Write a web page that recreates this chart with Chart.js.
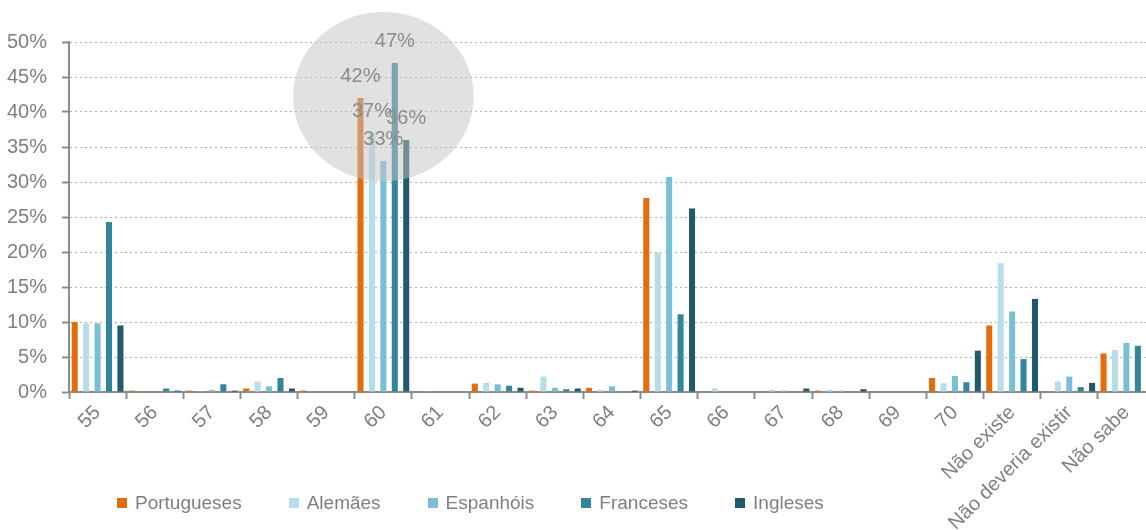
<!DOCTYPE html>
<html>
<head>
<meta charset="utf-8">
<script src="https://cdn.jsdelivr.net/npm/chart.js@4"></script>
<style>
  html, body { margin: 0; padding: 0; background: #fff; overflow: hidden; }
  #wrap { position: relative; width: 1155px; height: 530px; }
  #legend {
    position: absolute; left: 117px; top: 492px;
    display: flex; gap: 47px;
    font-family: "Liberation Sans", Arial, sans-serif; font-size: 19px; color: #7f7f7f;
  }
  #legend .item { display: flex; align-items: center; }
  #legend .box { width: 10px; height: 10px; margin-right: 8px; }
</style>
</head>
<body>
<div id="wrap">
  <canvas id="chart" width="1155" height="530"></canvas>
  <div id="legend"></div>
</div>
<script>
const categories = ['55', '56', '57', '58', '59', '60', '61', '62', '63', '64', '65', '66', '67', '68', '69', '70',
  'Não existe', 'Não deveria existir', 'Não sabe'];
const seriesNames = ['Portugueses', 'Alemães', 'Espanhóis', 'Franceses', 'Ingleses'];
const portugueses = [10.0, 0.2, 0.2, 0.5, 0.2, 42, 0, 1.2, 0.2, 0.6, 27.7, 0, 0, 0.2, 0, 2.0, 9.5, 0, 5.5];
const alemaes     = [9.8, 0, 0.1, 1.5, 0, 37, 0.1, 1.3, 2.2, 0.3, 19.9, 0.5, 0.3, 0.3, 0, 1.25, 18.4, 1.5, 6.0];
const espanhois   = [9.8, 0, 0.3, 0.8, 0, 33, 0, 1.1, 0.6, 0.8, 30.7, 0, 0.2, 0.2, 0, 2.3, 11.5, 2.2, 7.0];
const franceses   = [24.3, 0.5, 1.1, 2.0, 0, 47, 0, 0.9, 0.4, 0, 11.1, 0, 0, 0, 0, 1.4, 4.7, 0.7, 6.6];
const ingleses    = [9.5, 0.2, 0.2, 0.5, 0, 36, 0, 0.6, 0.5, 0.2, 26.2, 0, 0.5, 0.4, 0, 5.9, 13.3, 1.3, 6.2];
const yTicks = [0, 5, 10, 15, 20, 25, 30, 35, 40, 45, 50];
const highlightCategory = '60';

const colors = ['#E46C0A', '#B7DEE8', '#7AC0D5', '#31869C', '#225A69'];
const allSeries = [portugueses, alemaes, espanhois, franceses, ingleses];

// circulo cinzento + rótulos da categoria destacada
const highlightPlugin = {
  id: 'highlight',
  afterDatasetsDraw(chart) {
    const ctx = chart.ctx;
    const x = chart.scales.x;
    const y = chart.scales.y;
    const idx = categories.indexOf(highlightCategory);
    const cx = x.getPixelForValue(idx);
    const cy = y.getPixelForValue(42.2);
    const rx = 1.58 * (x.getPixelForValue(1) - x.getPixelForValue(0));
    const ry = y.getPixelForValue(0) - y.getPixelForValue(12.1);
    ctx.save();
    ctx.fillStyle = 'rgba(195,195,195,0.5)';
    ctx.beginPath();
    ctx.ellipse(cx, cy, rx, ry, 0, 0, Math.PI * 2);
    ctx.fill();

    ctx.font = '20px "Liberation Sans", Arial, sans-serif';
    ctx.fillStyle = '#8c8c8c';
    ctx.textAlign = 'center';
    ctx.textBaseline = 'alphabetic';
    chart.data.datasets.forEach((ds, i) => {
      const bar = chart.getDatasetMeta(i).data[idx];
      ctx.fillText(Math.round(ds.data[idx]) + '%', bar.x, bar.y - 16);
    });
    ctx.restore();
  }
};

new Chart(document.getElementById('chart'), {
  type: 'bar',
  data: {
    labels: categories,
    datasets: seriesNames.map((name, i) => ({
      label: name,
      data: allSeries[i],
      backgroundColor: colors[i],
      barPercentage: 0.53,
      categoryPercentage: 1.0
    }))
  },
  options: {
    responsive: false,
    animation: false,
    layout: { padding: { top: 42, right: 0, left: 0, bottom: 0 } },
    plugins: {
      legend: { display: false },
      tooltip: { enabled: false }
    },
    scales: {
      x: {
        offset: true,
        grid: {
          offset: true,
          drawOnChartArea: false,
          drawTicks: true,
          tickLength: 7,
          tickColor: '#8c8c8c',
          tickWidth: 2
        },
        border: { display: true, color: '#8c8c8c', width: 2 },
        ticks: {
          autoSkip: false,
          minRotation: 45,
          maxRotation: 45,
          padding: 2,
          color: '#7f7f7f',
          font: { family: '"Liberation Sans", Arial, sans-serif', size: 20 }
        },
        afterFit(scale) { scale.height = 138; }
      },
      y: {
        min: 0,
        max: 50,
        afterBuildTicks(scale) { scale.ticks = yTicks.map(v => ({ value: v })); },
        grid: {
          color: '#b0b0b0',
          lineWidth: 1,
          tickLength: 7,
          tickColor: '#8c8c8c',
          tickWidth: 2,
          tickBorderDash: []
        },
        border: { display: true, color: '#8c8c8c', width: 2, dash: [2, 3] },
        ticks: {
          padding: 15,
          color: '#7f7f7f',
          font: { family: '"Liberation Sans", Arial, sans-serif', size: 20 },
          callback: v => v + '%'
        },
        afterFit(scale) { scale.width = 69; }
      }
    }
  },
  plugins: [highlightPlugin]
});

const legend = document.getElementById('legend');
seriesNames.forEach((name, i) => {
  const item = document.createElement('div');
  item.className = 'item';
  item.innerHTML = '<span class="box" style="background:' + colors[i] + '"></span>' + name;
  legend.appendChild(item);
});
</script>
</body>
</html>
